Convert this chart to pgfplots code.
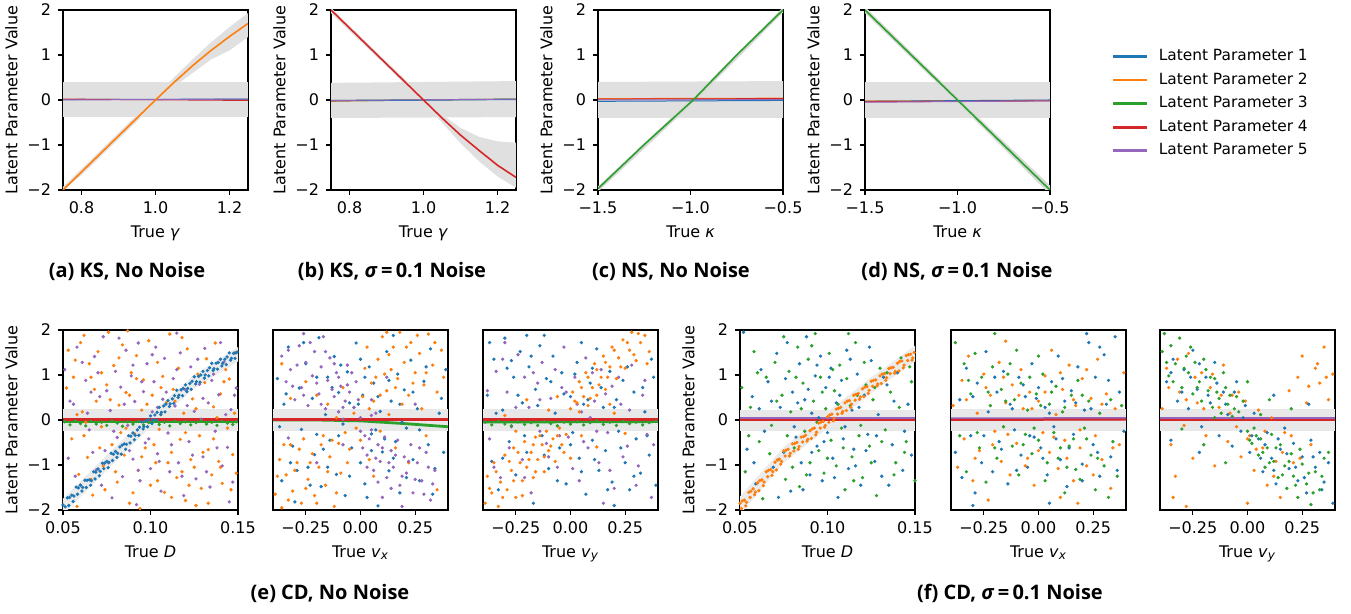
\documentclass[border=0pt]{standalone}
\usepackage{pgfplots}
\pgfplotsset{compat=1.18}
\usepackage{fontspec}
\setmainfont{DejaVu Sans}
\newfontfamily\capfont{Open Sans}
\definecolor{tBlue}{HTML}{1F77B4}
\definecolor{tOrange}{HTML}{FF7F0E}
\definecolor{tGreen}{HTML}{2CA02C}
\definecolor{tRed}{HTML}{D62728}
\definecolor{tPurple}{HTML}{9467BD}
\newcommand{\capt}[1]{{\capfont\bfseries\fontsize{10}{12}\selectfont #1}}

\pgfplotsset{
  base/.style={scale only axis, anchor=south west, height=90pt, ymin=-2, ymax=2,
    tick align=outside, xtick pos=bottom, ytick pos=left, major tick length=2.5pt,
    every tick/.style={black, line width=0.6pt}, axis line style={line width=0.6pt},
    tick label style={font=\fontsize{8}{9}\selectfont},
    label style={font=\fontsize{8}{9}\selectfont},
    xlabel style={yshift=1pt}},
  lefty/.style={ytick={-2,-1,0,1,2}, yticklabels={−2,−1,0,1,2},
    ylabel={Latent Parameter Value}, ylabel style={yshift=-2pt}},
  noy/.style={ytick=\empty},
  toprow/.style={base, lefty, width=92.5pt},
  botrow/.style={base, width=87.5pt},
  dots/.style={only marks, mark=*, mark size=0.62pt, mark options={draw=none}},
  cloud/.style={dots},
  flat/.style={line width=0.5pt},
}

\begin{document}
\begin{tikzpicture}
\useasboundingbox (0,0) rectangle (675.5pt,307pt);

% ---------------- (a) KS, no noise
\begin{axis}[toprow, at={(31.5pt,212pt)}, xmin=0.75, xmax=1.25,
  xtick={0.8,1.0,1.2}, xticklabels={0.8,1.0,1.2}, xlabel={True \textit{γ}}]
\addplot[fill=black!12, draw=none] coordinates {(0.75,-0.38) (1.25,-0.38) (1.25,0.4) (0.75,0.4)} -- cycle;
\addplot[fill=black!12, draw=none] coordinates {(0.75,-1.93) (0.8,-1.53) (0.9,-0.73) (1.0,0.07) (1.05,0.5) (1.1,0.9) (1.15,1.28) (1.2,1.62) (1.25,1.93)
  (1.25,1.4) (1.2,1.1) (1.15,0.9) (1.1,0.6) (1.05,0.3) (1.0,-0.07) (0.9,-0.87) (0.8,-1.67) (0.75,-2.0)} -- cycle;
\addplot[flat, tGreen] coordinates {(0.75,0.0) (1.25,0.0)};
\addplot[flat, tBlue] coordinates {(0.75,0.01) (1.25,0.02)};
\addplot[flat, tRed] coordinates {(0.75,0.02) (1.25,-0.01)};
\addplot[flat, tPurple] coordinates {(0.75,0.0) (1.0,0.01) (1.25,0.02)};
\addplot[tOrange, line width=0.8pt] coordinates {(0.75,-2.0) (0.8,-1.6) (0.85,-1.2) (0.9,-0.8) (0.95,-0.4) (1.0,0.0) (1.05,0.39) (1.1,0.76) (1.15,1.1) (1.2,1.41) (1.25,1.70)};
\end{axis}

% ---------------- (b) KS, sigma = 0.1
\begin{axis}[toprow, at={(165.5pt,212pt)}, xmin=0.75, xmax=1.25,
  xtick={0.8,1.0,1.2}, xticklabels={0.8,1.0,1.2}, xlabel={True \textit{γ}}]
\addplot[fill=black!12, draw=none] coordinates {(0.75,-0.4) (1.25,-0.38) (1.25,0.42) (0.75,0.38)} -- cycle;
\addplot[fill=black!12, draw=none] coordinates {(0.75,2.05) (0.9,0.85) (1.0,0.07) (1.05,-0.32) (1.1,-0.62) (1.15,-0.82) (1.2,-0.92) (1.25,-0.95)
  (1.25,-1.95) (1.2,-1.7) (1.15,-1.36) (1.1,-0.96) (1.05,-0.5) (1.0,-0.07) (0.9,0.75) (0.75,1.93)} -- cycle;
\addplot[flat, tOrange] coordinates {(0.75,-0.03) (0.9,-0.01) (1.25,0.02)};
\addplot[flat, tGreen] coordinates {(0.75,-0.01) (1.25,0.02)};
\addplot[flat, tBlue] coordinates {(0.75,-0.02) (1.25,0.01)};
\addplot[flat, tPurple] coordinates {(0.75,-0.01) (1.25,0.02)};
\addplot[tRed, line width=0.8pt] coordinates {(0.75,2.0) (0.8,1.6) (0.85,1.2) (0.9,0.8) (0.95,0.4) (1.0,0.0) (1.05,-0.4) (1.1,-0.78) (1.15,-1.12) (1.2,-1.45) (1.25,-1.72)};
\end{axis}

% ---------------- (c) NS, no noise
\begin{axis}[toprow, at={(299pt,212pt)}, xmin=-1.5, xmax=-0.5,
  xtick={-1.5,-1.0,-0.5}, xticklabels={−1.5,−1.0,−0.5}, xlabel={True \textit{κ}}]
\addplot[fill=black!12, draw=none] coordinates {(-1.5,-0.4) (-0.5,-0.4) (-0.5,0.42) (-1.5,0.4)} -- cycle;
\addplot[fill=black!15, draw=none] coordinates {(-1.5,-1.92) (-0.985,0.06) (-0.5,2.06) (-0.5,1.94) (-0.985,-0.06) (-1.5,-2.04)} -- cycle;
\addplot[flat, tOrange] coordinates {(-1.5,0.03) (-0.5,0.04)};
\addplot[flat, tBlue] coordinates {(-1.5,-0.03) (-0.5,-0.01)};
\addplot[flat, tRed] coordinates {(-1.5,0.02) (-0.5,0.03)};
\addplot[flat, tPurple] coordinates {(-1.5,0.0) (-0.5,0.01)};
\addplot[tGreen, line width=0.8pt] coordinates {(-1.5,-1.97) (-1.25,-0.99) (-0.985,0.0) (-0.75,1.0) (-0.5,2.0)};
\end{axis}

% ---------------- (d) NS, sigma = 0.1 (+ legend)
\begin{axis}[toprow, at={(432.5pt,212pt)}, xmin=-1.5, xmax=-0.5,
  xtick={-1.5,-1.0,-0.5}, xticklabels={−1.5,−1.0,−0.5}, xlabel={True \textit{κ}},
  legend style={at={(1.33,0.805)}, anchor=north west, draw=none, fill=none,
    font=\fontsize{7.7}{9}\selectfont, row sep=0.6pt, inner sep=0pt},
  legend cell align=left,
  legend image code/.code={\path[draw=none, fill=none] (0pt,0pt) -- (21pt,0pt);
    \draw[#1, line width=1.3pt] (0pt,0pt) -- (17pt,0pt);}]
\addlegendimage{tBlue}
\addlegendimage{tOrange}
\addlegendimage{tGreen}
\addlegendimage{tRed}
\addlegendimage{tPurple}
\legend{Latent Parameter 1,Latent Parameter 2,Latent Parameter 3,Latent Parameter 4,Latent Parameter 5}
\addplot[fill=black!12, draw=none] coordinates {(-1.5,-0.4) (-0.5,-0.4) (-0.5,0.4) (-1.5,0.4)} -- cycle;
\addplot[fill=black!15, draw=none] coordinates {(-1.5,2.07) (-1.0,0.06) (-0.5,-1.9) (-0.5,-2.1) (-1.0,-0.06) (-1.5,1.93)} -- cycle;
\addplot[flat, tOrange] coordinates {(-1.5,-0.02) (-0.5,-0.01)};
\addplot[flat, tBlue] coordinates {(-1.5,-0.03) (-0.5,0.0)};
\addplot[flat, tRed] coordinates {(-1.5,-0.04) (-0.5,-0.02)};
\addplot[flat, tPurple] coordinates {(-1.5,-0.05) (-0.5,-0.02)};
\addplot[tGreen, line width=0.8pt] coordinates {(-1.5,2.0) (-1.25,1.0) (-1.0,0.0) (-0.75,-1.0) (-0.5,-2.0)};
\end{axis}

% ---------------- (e) CD, no noise: D
\begin{axis}[botrow, lefty, at={(31.5pt,52pt)}, xmin=0.05, xmax=0.15,
  xtick={0.05,0.10,0.15}, xticklabels={0.05,0.10,0.15}, xlabel={True \textit{D}}]
\addplot[fill=black!9, draw=none] coordinates {(0.05,-0.25) (0.15,-0.25) (0.15,0.25) (0.05,0.25)} -- cycle;
\addplot[fill=black!8, draw=none] coordinates {(0.05,-1.75) (0.075,-0.78) (0.1,0.15) (0.125,1.0) (0.15,1.62) (0.15,1.3) (0.125,0.7) (0.1,-0.15) (0.075,-1.12) (0.05,-2.1)} -- cycle;
\addplot[cloud, tOrange] coordinates {(0.052,0.71) (0.055,-0.42) (0.057,1.33) (0.059,-1.21) (0.061,0.18) (0.062,1.88) (0.064,-0.83) (0.066,0.95) (0.067,-1.67) (0.069,0.42) (0.070,1.52) (0.072,-0.15) (0.073,-1.02) (0.075,0.78) (0.076,1.95) (0.078,-0.55) (0.079,1.21) (0.081,-1.38) (0.082,0.33) (0.084,1.67) (0.085,-0.78) (0.086,0.61) (0.088,-1.85) (0.089,1.05) (0.091,-0.31) (0.092,1.43) (0.093,-1.12) (0.095,0.22) (0.096,0.89) (0.097,-0.62) (0.099,1.76) (0.100,-1.45) (0.101,0.55) (0.103,-0.95) (0.104,1.28) (0.105,-0.21) (0.107,0.97) (0.108,-1.61) (0.109,0.38) (0.111,1.91) (0.112,-0.72) (0.113,0.68) (0.115,-1.28) (0.116,1.15) (0.117,-0.43) (0.119,0.15) (0.120,-1.79) (0.121,1.58) (0.123,-0.88) (0.124,0.47) (0.125,-1.05) (0.127,1.02) (0.128,-0.35) (0.129,-1.52) (0.131,0.83) (0.132,1.36) (0.133,-0.66) (0.135,-1.22) (0.136,0.29) (0.137,1.71) (0.139,-0.92) (0.140,0.58) (0.141,-1.41) (0.143,1.12) (0.144,-0.18) (0.145,0.91) (0.147,-0.77) (0.148,1.49) (0.149,-1.18) (0.058,-1.92) (0.074,-1.55) (0.087,1.98) (0.094,-1.97) (0.118,1.83) (0.126,-1.9) (0.106,0.12) (0.083,-0.28) (0.063,-0.05) (0.138,0.05)
  (0.053,1.55) (0.056,0.95) (0.060,1.72) (0.062,-0.35) (0.065,1.25) (0.068,0.68) (0.071,-0.62) (0.072,1.05) (0.077,0.45) (0.080,-1.15) (0.082,1.38) (0.086,-0.18) (0.088,0.55) (0.090,-1.62) (0.092,0.92) (0.095,-0.82) (0.098,0.35) (0.102,-0.55) (0.104,-1.35) (0.106,0.72) (0.110,-0.95) (0.112,-1.72) (0.114,0.42) (0.118,-1.15) (0.120,-0.28) (0.122,-1.45) (0.126,0.25) (0.130,-0.72) (0.133,-1.85) (0.136,-0.42) (0.140,-1.05) (0.142,0.85) (0.146,-1.55) (0.148,0.15) (0.058,0.12) (0.066,-1.32)};
\addplot[cloud, tPurple] coordinates {(0.051,1.12) (0.053,-0.85) (0.056,0.35) (0.058,1.62) (0.060,-1.45) (0.063,0.88) (0.065,-0.22) (0.068,1.41) (0.069,-1.11) (0.071,0.52) (0.073,1.85) (0.074,-0.68) (0.077,0.21) (0.078,-1.73) (0.080,1.08) (0.081,-0.39) (0.083,0.73) (0.084,-1.26) (0.086,1.55) (0.087,-0.12) (0.089,0.98) (0.090,-0.87) (0.091,0.41) (0.093,1.71) (0.094,-1.35) (0.096,0.63) (0.097,-0.51) (0.098,1.25) (0.100,-1.08) (0.102,0.85) (0.103,1.62) (0.104,-0.75) (0.106,-1.58) (0.107,0.46) (0.108,1.37) (0.110,-0.29) (0.111,-1.15) (0.113,0.92) (0.114,0.31) (0.116,-0.95) (0.117,1.49) (0.119,-1.68) (0.120,0.67) (0.122,-0.48) (0.123,1.18) (0.125,0.19) (0.126,-1.31) (0.128,0.79) (0.130,-0.82) (0.131,1.59) (0.133,0.38) (0.134,-1.49) (0.136,1.02) (0.137,-0.25) (0.139,0.56) (0.141,-1.02) (0.142,1.29) (0.144,-0.61) (0.146,0.23) (0.147,-1.38) (0.149,0.71) (0.076,-0.95) (0.092,-1.88) (0.115,1.93) (0.129,0.02) (0.066,0.62) (0.101,0.18)
  (0.054,0.42) (0.057,-1.25) (0.061,1.28) (0.064,0.15) (0.067,-0.72) (0.070,1.05) (0.072,-1.45) (0.075,0.65) (0.079,-0.25) (0.082,1.82) (0.085,0.35) (0.088,-0.68) (0.090,1.22) (0.093,-1.12) (0.095,0.85) (0.099,-0.42) (0.101,1.45) (0.104,0.28) (0.105,-0.92) (0.109,0.62) (0.112,-0.55) (0.115,1.12) (0.118,-1.25) (0.121,0.32) (0.124,-0.78) (0.127,1.35) (0.130,0.48) (0.132,-1.15) (0.135,0.88) (0.138,-0.62) (0.140,1.72) (0.143,0.12) (0.145,-1.82) (0.148,0.55)};
\addplot[dots, tGreen] coordinates {(0.051,-0.04) (0.054,-0.11) (0.057,-0.02) (0.060,-0.08) (0.063,-0.13) (0.066,-0.03) (0.069,-0.09) (0.072,-0.05) (0.075,-0.12) (0.078,-0.02) (0.081,-0.07) (0.084,-0.14) (0.087,-0.04) (0.090,-0.09) (0.093,-0.03) (0.096,-0.11) (0.099,-0.06) (0.102,-0.02) (0.105,-0.10) (0.108,-0.05) (0.111,-0.13) (0.114,-0.03) (0.117,-0.08) (0.120,-0.04) (0.123,-0.11) (0.126,-0.06) (0.129,-0.02) (0.132,-0.09) (0.135,-0.05) (0.138,-0.12) (0.141,-0.03) (0.144,-0.07) (0.147,-0.1) (0.149,-0.04)};
\addplot[tGreen, line width=1.2pt] coordinates {(0.05,-0.05) (0.15,-0.05)};
\addplot[tRed, line width=1.4pt] coordinates {(0.05,0.01) (0.15,0.01)};
\addplot[dots, tBlue] coordinates {(0.0500,-1.89) (0.0508,-2.04) (0.0525,-1.73) (0.0533,-1.90) (0.0550,-1.67) (0.0558,-1.81) (0.0575,-1.49) (0.0583,-1.65) (0.0600,-1.45) (0.0608,-1.58) (0.0625,-1.34) (0.0633,-1.50) (0.0650,-1.33) (0.0658,-1.45) (0.0675,-1.15) (0.0683,-1.31) (0.0700,-1.09) (0.0708,-1.24) (0.0725,-0.96) (0.0733,-1.08) (0.0750,-0.92) (0.0758,-1.06) (0.0775,-0.74) (0.0783,-0.90) (0.0800,-0.70) (0.0808,-0.83) (0.0825,-0.60) (0.0833,-0.76) (0.0850,-0.53) (0.0858,-0.65) (0.0875,-0.35) (0.0883,-0.51) (0.0900,-0.29) (0.0908,-0.44) (0.0925,-0.22) (0.0933,-0.34) (0.0950,-0.04) (0.0958,-0.20) (0.0975,-0.02) (0.0983,-0.15) (0.1000,0.09) (0.1008,-0.08) (0.1025,0.11) (0.1033,0.00) (0.1050,0.28) (0.1058,0.12) (0.1075,0.31) (0.1083,0.18) (0.1100,0.43) (0.1108,0.30) (0.1125,0.47) (0.1133,0.37) (0.1150,0.66) (0.1158,0.50) (0.1175,0.67) (0.1183,0.54) (0.1200,0.78) (0.1208,0.63) (0.1225,0.81) (0.1233,0.68) (0.1250,0.96) (0.1258,0.80) (0.1275,0.97) (0.1283,0.84) (0.1300,1.08) (0.1308,0.93) (0.1325,1.10) (0.1333,0.98) (0.1350,1.26) (0.1358,1.10) (0.1375,1.26) (0.1383,1.13) (0.1400,1.35) (0.1408,1.20) (0.1425,1.35) (0.1433,1.23) (0.1450,1.49) (0.1458,1.33) (0.1475,1.48) (0.1483,1.37) (0.1495,1.51)
  (0.05125,-1.93) (0.05375,-1.72) (0.05625,-1.69) (0.05875,-1.51) (0.06125,-1.50) (0.06375,-1.34) (0.06625,-1.35) (0.06875,-1.16) (0.07125,-1.14) (0.07375,-0.96) (0.07625,-0.94) (0.07875,-0.76) (0.08125,-0.74) (0.08375,-0.56) (0.08625,-0.54) (0.08875,-0.36) (0.09125,-0.34) (0.09375,-0.16) (0.09625,-0.15) (0.09875,0.01) (0.10125,0.00) (0.10375,0.17) (0.10625,0.17) (0.10875,0.35) (0.11125,0.36) (0.11375,0.54) (0.11625,0.55) (0.11875,0.70) (0.12125,0.70) (0.12375,0.86) (0.12625,0.85) (0.12875,1.00) (0.13125,1.00) (0.13375,1.16) (0.13625,1.14) (0.13875,1.28) (0.14125,1.26) (0.14375,1.40) (0.14625,1.37) (0.14875,1.49)};
\end{axis}

% ---------------- (e) CD, no noise: v_x
\begin{axis}[botrow, noy, at={(136.5pt,52pt)}, xmin=-0.4, xmax=0.4,
  xtick={-0.25,0,0.25}, xticklabels={−0.25,0.00,0.25}, xlabel={True \textit{v}\textsubscript{\textit{x}}}]
\addplot[fill=black!9, draw=none] coordinates {(-0.4,-0.25) (0.4,-0.25) (0.4,0.25) (-0.4,0.25)} -- cycle;
\addplot[cloud, tBlue] coordinates {(-0.38,0.92) (-0.36,-1.35) (-0.35,0.35) (-0.33,1.62) (-0.31,-0.58) (-0.30,-1.82) (-0.28,0.71) (-0.27,-0.21) (-0.25,1.25) (-0.24,-1.05) (-0.22,0.48) (-0.21,-0.77) (-0.19,1.83) (-0.18,-1.48) (-0.16,0.12) (-0.15,0.95) (-0.14,-0.45) (-0.12,1.41) (-0.11,-1.21) (-0.10,0.61) (-0.08,-0.09) (-0.07,-1.68) (-0.06,1.07) (-0.04,-0.62) (-0.03,0.28) (-0.02,1.71) (0.00,-0.95) (0.01,0.55) (0.02,-1.42) (0.04,1.18) (0.05,-0.31) (0.06,0.82) (0.08,-1.91) (0.09,0.19) (0.10,-0.71) (0.12,1.52) (0.13,-1.13) (0.14,0.42) (0.16,-0.48) (0.17,1.02) (0.18,-1.62) (0.20,0.67) (0.21,-0.18) (0.23,1.33) (0.24,-0.88) (0.26,0.25) (0.27,-1.35) (0.29,0.86) (0.31,-0.55) (0.32,1.58) (0.34,-1.08) (0.36,0.15) (0.38,-0.72) (0.39,1.12) (-0.2,-0.32) (-0.05,0.38) (0.07,-0.22) (0.15,1.88) (-0.29,-1.12) (0.03,-1.72)
  (-0.37,-0.15) (-0.34,0.58) (-0.32,-0.95) (-0.26,1.72) (-0.23,-1.45) (-0.20,0.95) (-0.17,-0.65) (-0.13,0.72) (-0.10,-0.35) (-0.09,1.22) (-0.05,-1.25) (-0.01,0.35) (0.02,0.95) (0.05,-0.68) (0.08,0.52) (0.11,-0.42) (0.13,0.88) (0.15,-0.85) (0.18,0.35) (0.21,-1.28) (0.24,0.62) (0.27,-0.22) (0.30,1.18) (0.33,-1.65) (0.37,0.48) (-0.15,-1.05) (0.0,1.35) (0.19,-0.05)};
\addplot[cloud, tOrange] coordinates {(0.05,0.82) (0.08,1.35) (0.10,1.85) (0.12,0.65) (0.14,1.12) (0.15,1.62) (0.17,0.92) (0.18,1.95) (0.20,1.28) (0.22,0.55) (0.23,1.72) (0.25,1.05) (0.27,1.48) (0.29,0.78) (0.31,1.91) (0.33,1.22) (0.35,0.62) (0.37,1.55) (0.02,1.15) (0.06,0.42) (0.19,0.35) (0.28,0.25) (0.11,1.02) (-0.39,-1.65) (-0.37,-0.88) (-0.36,-1.95) (-0.34,-1.22) (-0.32,-0.55) (-0.31,-1.58) (-0.29,-0.95) (-0.27,-1.85) (-0.26,-0.42) (-0.24,-1.32) (-0.22,-0.75) (-0.21,-1.68) (-0.19,-1.05) (-0.17,-0.35) (-0.16,-1.45) (-0.14,-0.82) (-0.12,-1.92) (-0.10,-0.52) (-0.09,-1.18) (-0.07,-0.28) (-0.15,0.35) (-0.08,0.72) (0.0,-0.45) (0.04,-0.88) (-0.03,0.15) (0.09,-0.25) (-0.2,0.55) (0.16,-0.62) (-0.32,0.48) (0.3,-0.35) (-0.05,-0.65) (0.01,0.52) (0.13,0.12) (-0.11,0.05)
  (0.03,1.62) (0.07,0.95) (0.09,0.55) (0.13,1.45) (0.16,0.72) (0.21,1.62) (0.24,0.82) (0.26,1.88) (0.30,1.05) (0.34,1.72) (0.38,0.95) (0.12,1.95) (0.04,0.25) (-0.38,-1.25) (-0.35,-0.55) (-0.33,-1.78) (-0.30,-1.12) (-0.28,-0.65) (-0.25,-1.52) (-0.23,-0.95) (-0.20,-1.85) (-0.18,-0.55) (-0.15,-1.15) (-0.13,-0.45) (-0.11,-1.62) (-0.06,-0.95) (-0.02,-0.18) (0.06,-1.25) (-0.25,0.85) (0.22,-0.95) (0.35,-1.55) (-0.36,1.25)};
\addplot[cloud, tPurple] coordinates {(-0.36,1.42) (-0.34,0.85) (-0.32,1.12) (-0.30,0.45) (-0.28,1.65) (-0.27,0.72) (-0.25,1.28) (-0.24,0.32) (-0.22,0.98) (-0.21,1.52) (-0.19,0.58) (-0.18,1.18) (-0.16,0.25) (-0.15,0.88) (-0.14,1.38) (-0.12,0.52) (-0.11,1.05) (-0.10,0.18) (-0.09,0.75) (-0.07,0.42) (-0.06,1.22) (-0.05,0.62) (-0.03,0.28) (-0.02,0.85) (-0.17,1.85) (-0.26,1.92) (0.02,-0.35) (0.03,-0.78) (0.05,-0.22) (0.06,-1.12) (0.08,-0.55) (0.09,-0.92) (0.11,-0.38) (0.12,-1.28) (0.14,-0.68) (0.15,-1.05) (0.17,-0.45) (0.18,-1.45) (0.20,-0.82) (0.21,-1.18) (0.23,-0.55) (0.24,-1.62) (0.26,-0.95) (0.28,-1.35) (0.30,-0.72) (0.32,-1.78) (0.34,-1.12) (0.10,-1.72) (0.19,-1.92) (0.05,0.45) (0.12,0.95) (-0.08,-0.55) (-0.2,-0.95) (0.25,0.35) (-0.33,-0.4) (0.0,0.05) (0.07,0.15)
  (-0.33,1.55) (-0.31,0.75) (-0.29,1.22) (-0.26,0.55) (-0.23,1.72) (-0.2,0.82) (-0.18,0.35) (-0.16,1.52) (-0.13,0.68) (-0.12,1.25) (-0.10,0.95) (-0.08,0.28) (-0.06,0.78) (-0.04,1.05) (-0.01,0.45) (0.00,-0.25) (0.01,-0.62) (0.03,-1.05) (0.04,-0.42) (0.07,-0.85) (0.08,-1.38) (0.10,-0.62) (0.13,-0.95) (0.14,-1.52) (0.16,-0.78) (0.19,-1.25) (0.22,-0.92) (0.25,-1.32) (0.27,-0.62) (0.29,-1.65) (0.31,-1.05) (0.33,-1.42) (-0.08,0.02) (0.05,0.1)};
\addplot[tGreen, line width=1.4pt] coordinates {(-0.4,0.0) (-0.2,0.0) (0.0,-0.02) (0.2,-0.08) (0.4,-0.15)};
\addplot[tRed, line width=1.4pt] coordinates {(-0.4,0.01) (0.4,0.01)};
\end{axis}

% ---------------- (e) CD, no noise: v_y
\begin{axis}[botrow, noy, at={(241.5pt,52pt)}, xmin=-0.4, xmax=0.4,
  xtick={-0.25,0,0.25}, xticklabels={−0.25,0.00,0.25}, xlabel={True \textit{v}\textsubscript{\textit{y}}}]
\addplot[fill=black!9, draw=none] coordinates {(-0.4,-0.25) (0.4,-0.25) (0.4,0.25) (-0.4,0.25)} -- cycle;
\addplot[cloud, tBlue] coordinates {(-0.38,0.55) (-0.36,-0.92) (-0.35,1.35) (-0.33,-1.55) (-0.31,0.22) (-0.30,1.82) (-0.28,-0.48) (-0.26,0.95) (-0.25,-1.22) (-0.23,1.52) (-0.22,0.38) (-0.20,-0.72) (-0.19,1.18) (-0.17,-1.85) (-0.16,0.68) (-0.14,1.65) (-0.13,-0.35) (-0.11,0.92) (-0.10,-1.08) (-0.08,1.42) (-0.07,0.15) (-0.05,-0.62) (-0.04,1.05) (-0.02,-1.42) (0.00,0.52) (0.01,-0.28) (0.03,1.28) (0.04,-0.85) (0.06,0.35) (0.07,-1.65) (0.09,0.82) (0.10,-0.45) (0.12,1.58) (0.13,-1.12) (0.15,0.28) (0.16,-0.68) (0.18,1.08) (0.19,-1.38) (0.21,0.45) (0.22,-0.25) (0.24,0.88) (0.25,-0.95) (0.27,-1.55) (0.29,0.62) (0.30,-0.42) (0.32,-1.18) (0.34,0.18) (0.36,-0.78) (0.38,0.95) (0.39,-1.45) (-0.29,1.15) (-0.12,1.88) (0.05,1.72) (0.2,-1.9)
  (-0.37,1.72) (-0.34,0.15) (-0.31,-0.85) (-0.27,1.32) (-0.24,0.55) (-0.21,-0.35) (-0.18,1.42) (-0.15,0.32) (-0.12,-0.78) (-0.09,0.85) (-0.06,-1.35) (-0.03,0.58) (0.00,-0.55) (0.02,1.02) (0.05,-1.15) (0.08,0.45) (0.11,-0.88) (0.14,0.72) (0.17,-1.55) (0.20,0.28) (0.23,-0.62) (0.26,1.18) (0.29,-1.25) (0.33,0.72) (0.35,-0.35) (0.37,1.35) (-0.2,1.88) (0.1,1.15)};
\addplot[cloud, tPurple] coordinates {(-0.37,-0.42) (-0.34,1.08) (-0.32,-1.28) (-0.29,0.62) (-0.27,-0.15) (-0.24,1.45) (-0.22,-0.88) (-0.19,0.28) (-0.18,-1.62) (-0.15,0.82) (-0.13,1.28) (-0.11,-0.52) (-0.09,0.48) (-0.06,-1.05) (-0.04,0.72) (-0.03,1.62) (-0.01,-0.38) (0.02,0.95) (0.04,-1.35) (0.05,0.18) (0.07,1.38) (0.08,-0.62) (0.11,0.42) (0.13,-0.95) (0.14,1.12) (0.17,-0.28) (0.19,0.75) (0.20,-1.52) (0.23,0.35) (0.26,-0.58) (0.28,1.22) (0.31,-1.02) (0.33,0.55) (0.35,-0.32) (0.37,-1.72) (-0.14,-0.25) (0.09,0.05) (-0.21,0.95) (0.15,-1.85) (-0.3,1.72)
  (-0.38,0.65) (-0.35,-1.05) (-0.31,1.35) (-0.28,-0.62) (-0.25,0.28) (-0.21,-1.28) (-0.17,1.05) (-0.14,0.45) (-0.1,-0.82) (-0.07,1.12) (-0.05,-0.35) (-0.02,0.62) (0.01,-1.08) (0.03,0.35) (0.06,-0.48) (0.10,1.05) (0.12,-0.25) (0.16,0.58) (0.18,-1.12) (0.22,0.95) (0.24,-0.82) (0.27,0.22) (0.30,-1.45) (0.34,0.88) (0.38,-0.55)};
\addplot[cloud, tOrange] coordinates {(-0.39,-1.85) (-0.38,-1.25) (-0.36,-1.62) (-0.35,-0.95) (-0.33,-1.92) (-0.32,-1.38) (-0.30,-0.78) (-0.29,-1.55) (-0.27,-1.12) (-0.26,-0.62) (-0.25,-1.72) (-0.23,-0.95) (-0.22,-1.35) (-0.21,-0.48) (-0.20,-1.05) (-0.18,-0.72) (-0.17,-1.28) (-0.16,-0.38) (-0.15,-0.88) (-0.13,-0.55) (-0.12,-1.15) (-0.11,-0.25) (-0.10,-0.68) (-0.08,-0.42) (-0.07,-0.92) (-0.05,-0.18) (-0.04,-0.55) (-0.02,-0.32) (0.00,0.25) (0.01,0.62) (0.03,0.38) (0.04,0.85) (0.06,0.52) (0.07,1.05) (0.08,0.32) (0.10,0.72) (0.11,1.25) (0.12,0.55) (0.14,0.95) (0.15,1.42) (0.16,0.68) (0.18,1.18) (0.19,1.62) (0.21,0.92) (0.22,1.38) (0.24,1.78) (0.25,1.15) (0.27,1.55) (0.28,1.95) (0.30,1.32) (0.32,1.72) (0.34,1.88) (0.36,1.52) (-0.2,0.45) (0.05,-0.35) (-0.1,0.22) (0.12,-0.6) (0.2,0.15) (-0.3,0.1) (0.0,-0.85) (-0.06,0.52) (0.25,-0.3)
  (-0.37,-1.52) (-0.34,-1.15) (-0.31,-1.72) (-0.28,-0.92) (-0.26,-1.35) (-0.24,-0.72) (-0.22,-1.68) (-0.19,-0.88) (-0.17,-0.55) (-0.16,-1.15) (-0.14,-0.35) (-0.12,-0.82) (-0.09,-0.58) (-0.06,-0.35) (-0.03,-0.72) (0.02,0.42) (0.04,0.18) (0.05,0.72) (0.08,0.95) (0.09,0.48) (0.12,1.12) (0.13,0.78) (0.16,1.28) (0.17,0.95) (0.20,1.55) (0.23,1.18) (0.26,1.72) (0.29,1.45) (0.31,1.92) (0.35,1.25) (0.18,0.35) (-0.25,-0.25)};
\addplot[dots, tGreen] coordinates {(-0.39,-0.05) (-0.36,-0.11) (-0.33,-0.03) (-0.30,-0.09) (-0.27,-0.13) (-0.24,-0.04) (-0.21,-0.10) (-0.18,-0.06) (-0.15,-0.12) (-0.12,-0.03) (-0.09,-0.08) (-0.06,-0.13) (-0.03,-0.05) (0.00,-0.09) (0.03,-0.04) (0.06,-0.11) (0.09,-0.06) (0.12,-0.02) (0.15,-0.10) (0.18,-0.05) (0.21,-0.12) (0.24,-0.03) (0.27,-0.08) (0.30,-0.05) (0.33,-0.11) (0.36,-0.06) (0.39,-0.03)};
\addplot[tGreen, line width=1.2pt] coordinates {(-0.4,-0.05) (0.4,-0.04)};
\addplot[tRed, line width=1.4pt] coordinates {(-0.4,0.01) (0.4,0.01)};
\end{axis}

% ---------------- (f) CD, sigma = 0.1: D
\begin{axis}[botrow, lefty, at={(370pt,52pt)}, xmin=0.05, xmax=0.15,
  xtick={0.05,0.10,0.15}, xticklabels={0.05,0.10,0.15}, xlabel={True \textit{D}}]
\addplot[fill=black!9, draw=none] coordinates {(0.05,-0.25) (0.15,-0.25) (0.15,0.22) (0.05,0.22)} -- cycle;
\addplot[fill=black!8, draw=none] coordinates {(0.05,-1.7) (0.075,-0.6) (0.1,0.18) (0.125,0.95) (0.15,1.65) (0.15,1.3) (0.125,0.6) (0.1,-0.18) (0.075,-0.95) (0.05,-2.1)} -- cycle;
\addplot[cloud, tBlue] coordinates {(0.052,1.95) (0.054,-0.65) (0.057,0.52) (0.059,-1.42) (0.062,1.12) (0.064,-0.25) (0.066,0.85) (0.069,-1.05) (0.071,1.48) (0.073,0.28) (0.075,-0.72) (0.077,1.72) (0.079,-1.58) (0.080,0.62) (0.082,-0.38) (0.084,1.25) (0.085,-0.95) (0.087,0.45) (0.088,1.85) (0.090,-1.22) (0.091,0.15) (0.093,0.98) (0.094,-0.58) (0.096,1.42) (0.097,-1.35) (0.099,0.72) (0.100,-0.28) (0.102,1.15) (0.103,-0.85) (0.105,0.38) (0.106,-1.72) (0.108,0.88) (0.109,-0.42) (0.111,1.55) (0.112,-1.08) (0.114,0.22) (0.115,-0.65) (0.117,1.02) (0.119,-1.45) (0.121,0.55) (0.123,-0.32) (0.125,1.32) (0.127,-0.92) (0.129,0.12) (0.131,-1.25) (0.134,0.78) (0.137,-0.55) (0.140,1.05) (0.143,-1.12) (0.146,0.35) (0.148,-0.78)
  (0.068,0.42) (0.072,-1.72) (0.076,0.92) (0.081,-0.15) (0.083,0.38) (0.086,-1.55) (0.089,0.68) (0.091,-0.72) (0.094,1.22) (0.095,0.05) (0.098,-0.48) (0.101,0.95) (0.104,-1.28) (0.107,0.55) (0.110,-0.15) (0.113,1.35) (0.116,-1.02) (0.118,0.28) (0.122,-0.68) (0.124,1.62) (0.128,-0.35) (0.132,0.95) (0.135,-1.45) (0.138,0.42) (0.144,-0.25) (0.058,-0.95) (0.061,0.25)};
\addplot[cloud, tGreen] coordinates {(0.051,0.72) (0.053,-1.15) (0.056,0.28) (0.058,1.52) (0.061,-0.48) (0.063,-1.75) (0.065,0.95) (0.068,-0.12) (0.070,1.28) (0.072,-0.88) (0.074,0.55) (0.076,-1.32) (0.078,1.08) (0.079,0.18) (0.081,-0.62) (0.083,1.62) (0.084,-1.48) (0.086,0.82) (0.087,-0.25) (0.089,1.35) (0.090,-0.95) (0.092,0.42) (0.093,1.92) (0.095,-0.68) (0.096,0.95) (0.098,-1.18) (0.099,0.25) (0.101,1.48) (0.102,-0.45) (0.104,0.65) (0.105,-1.02) (0.107,1.22) (0.108,-0.18) (0.110,-1.55) (0.111,0.92) (0.113,0.32) (0.114,-0.82) (0.116,1.72) (0.118,-0.35) (0.120,-1.28) (0.122,0.78) (0.124,-0.58) (0.126,0.45) (0.128,-1.68) (0.130,1.15) (0.133,-0.22) (0.136,0.62) (0.139,-0.95) (0.142,1.38) (0.145,-0.48) (0.148,0.85) (0.150,-1.35)
  (0.06,1.05) (0.067,-0.75) (0.071,0.42) (0.075,1.85) (0.077,-0.35) (0.08,-1.05) (0.082,0.95) (0.085,0.25) (0.088,-1.22) (0.091,1.65) (0.094,-0.05) (0.097,0.62) (0.1,-0.85) (0.103,1.12) (0.106,0.35) (0.109,-0.62) (0.112,1.92) (0.115,-1.35) (0.117,0.55) (0.119,-0.12) (0.121,1.28) (0.125,-0.95) (0.127,0.72) (0.131,-0.48) (0.134,1.05) (0.138,-1.22) (0.141,0.28) (0.144,-0.72) (0.147,1.18) (0.055,-0.35)};
\addplot[tPurple, line width=1.6pt] coordinates {(0.05,0.02) (0.15,0.02)};
\addplot[tRed, line width=1.0pt] coordinates {(0.05,0.0) (0.15,0.0)};
\addplot[dots, tOrange] coordinates {(0.0500,-1.85) (0.0508,-1.97) (0.0525,-1.78) (0.0533,-1.91) (0.0550,-1.61) (0.0558,-1.72) (0.0575,-1.53) (0.0583,-1.66) (0.0600,-1.40) (0.0608,-1.57) (0.0625,-1.33) (0.0633,-1.46) (0.0650,-1.15) (0.0658,-1.26) (0.0675,-1.10) (0.0683,-1.23) (0.0700,-0.94) (0.0708,-1.11) (0.0725,-0.87) (0.0733,-0.98) (0.0750,-0.69) (0.0758,-0.80) (0.0775,-0.65) (0.0783,-0.80) (0.0800,-0.53) (0.0808,-0.69) (0.0825,-0.50) (0.0833,-0.65) (0.0850,-0.38) (0.0858,-0.49) (0.0875,-0.34) (0.0883,-0.47) (0.0900,-0.24) (0.0908,-0.41) (0.0925,-0.18) (0.0933,-0.33) (0.0950,-0.07) (0.0958,-0.18) (0.0975,-0.03) (0.0983,-0.16) (0.1000,0.07) (0.1008,-0.05) (0.1025,0.13) (0.1033,-0.02) (0.1050,0.24) (0.1058,0.13) (0.1075,0.28) (0.1083,0.15) (0.1100,0.38) (0.1108,0.21) (0.1125,0.43) (0.1133,0.28) (0.1150,0.55) (0.1158,0.44) (0.1175,0.59) (0.1183,0.46) (0.1200,0.69) (0.1208,0.52) (0.1225,0.74) (0.1233,0.59) (0.1250,0.86) (0.1258,0.75) (0.1275,0.89) (0.1283,0.76) (0.1300,0.98) (0.1308,0.81) (0.1325,1.03) (0.1333,0.88) (0.1350,1.14) (0.1358,1.03) (0.1375,1.17) (0.1383,1.04) (0.1400,1.26) (0.1408,1.09) (0.1425,1.31) (0.1433,1.16) (0.1450,1.43) (0.1458,1.32) (0.1475,1.46) (0.1483,1.33) (0.1495,1.50)
  (0.05125,-1.80) (0.05375,-1.83) (0.05625,-1.58) (0.05875,-1.60) (0.06125,-1.35) (0.06375,-1.38) (0.06625,-1.12) (0.06875,-1.15) (0.07125,-0.89) (0.07375,-0.92) (0.07625,-0.67) (0.07875,-0.74) (0.08125,-0.52) (0.08375,-0.59) (0.08625,-0.37) (0.08875,-0.43) (0.09125,-0.20) (0.09375,-0.27) (0.09625,-0.05) (0.09875,-0.12) (0.10125,0.11) (0.10375,0.04) (0.10625,0.26) (0.10875,0.19) (0.11125,0.42) (0.11375,0.35) (0.11625,0.57) (0.11875,0.51) (0.12125,0.73) (0.12375,0.66) (0.12625,0.88) (0.12875,0.80) (0.13125,1.02) (0.13375,0.94) (0.13625,1.16) (0.13875,1.08) (0.14125,1.30) (0.14375,1.22) (0.14625,1.45) (0.14875,1.38)};
\end{axis}

% ---------------- (f) CD, sigma = 0.1: v_x
\begin{axis}[botrow, noy, at={(475.5pt,52pt)}, xmin=-0.4, xmax=0.4,
  xtick={-0.25,0,0.25}, xticklabels={−0.25,0.00,0.25}, xlabel={True \textit{v}\textsubscript{\textit{x}}}]
\addplot[fill=black!9, draw=none] coordinates {(-0.4,-0.25) (0.4,-0.25) (0.4,0.25) (-0.4,0.25)} -- cycle;
\addplot[cloud, tBlue] coordinates {(-0.38,-0.72) (-0.36,0.45) (-0.35,-1.28) (-0.33,1.15) (-0.31,-0.35) (-0.29,-1.62) (-0.28,0.82) (-0.26,-0.95) (-0.24,1.52) (-0.23,0.18) (-0.21,-1.15) (-0.19,0.62) (-0.18,-0.48) (-0.16,1.08) (-0.14,-1.42) (-0.13,0.35) (-0.11,-0.22) (-0.09,0.95) (-0.08,-0.78) (-0.06,0.52) (-0.05,-1.05) (-0.03,1.25) (-0.02,-0.38) (0.00,0.72) (0.01,-0.62) (0.03,0.28) (0.04,-1.22) (0.06,0.85) (0.07,-0.15) (0.09,1.42) (0.10,-0.88) (0.12,0.42) (0.13,-1.48) (0.15,0.65) (0.16,-0.32) (0.18,1.18) (0.20,-0.98) (0.21,0.22) (0.23,1.72) (0.25,-0.55) (0.26,0.95) (0.28,-1.25) (0.30,1.45) (0.31,0.35) (0.33,-0.82) (0.35,1.85) (0.37,0.62) (0.39,-0.25) (0.22,1.92) (0.28,1.62) (-0.3,-1.9) (0.05,-1.85)
  (-0.3,0.52) (-0.25,-0.35) (-0.2,0.95) (-0.17,-0.65) (-0.12,0.25) (-0.1,-1.12) (-0.07,0.78) (-0.04,-0.35) (-0.01,0.48) (0.02,-0.85) (0.05,0.15) (0.08,-0.42) (0.11,0.92) (0.14,-0.62) (0.17,0.38) (0.2,-1.35) (0.24,0.25) (0.27,-0.72) (0.32,0.88) (0.36,-1.12)};
\addplot[cloud, tOrange] coordinates {(-0.39,0.32) (-0.37,-1.05) (-0.35,0.88) (-0.34,-0.42) (-0.32,1.42) (-0.30,-1.35) (-0.28,0.15) (-0.27,-0.68) (-0.25,1.02) (-0.23,-1.78) (-0.22,0.55) (-0.20,-0.25) (-0.18,1.28) (-0.17,-0.92) (-0.15,0.38) (-0.13,-1.22) (-0.12,0.78) (-0.10,-0.52) (-0.08,1.12) (-0.07,0.25) (-0.05,-0.85) (-0.04,0.62) (-0.02,-1.45) (0.00,0.42) (0.02,-0.28) (0.03,0.98) (0.05,-0.72) (0.06,1.55) (0.08,0.12) (0.09,-1.08) (0.11,0.68) (0.12,-0.45) (0.14,1.22) (0.16,-1.35) (0.17,0.32) (0.19,-0.62) (0.20,0.92) (0.22,-1.02) (0.24,0.48) (0.26,-0.35) (0.27,1.35) (0.29,-0.88) (0.31,0.58) (0.33,-1.52) (0.35,0.25) (0.37,-0.55) (0.39,1.05) (0.1,-1.72) (-0.15,1.75) (0.18,-1.85)
  (-0.33,0.45) (-0.29,-0.85) (-0.24,0.72) (-0.21,-0.55) (-0.16,0.95) (-0.14,-0.32) (-0.09,0.55) (-0.06,-1.02) (-0.03,0.25) (0.0,-0.68) (0.03,0.62) (0.07,-0.38) (0.1,1.05) (0.13,-0.85) (0.16,0.45) (0.19,-0.22) (0.22,1.12) (0.25,-1.22) (0.29,0.35) (0.34,-0.62)};
\addplot[cloud, tGreen] coordinates {(-0.38,1.72) (-0.36,-0.35) (-0.34,1.25) (-0.33,-1.15) (-0.31,0.58) (-0.29,1.48) (-0.27,-0.62) (-0.26,0.95) (-0.24,-1.38) (-0.22,0.32) (-0.21,1.18) (-0.19,-0.85) (-0.17,0.68) (-0.16,-0.15) (-0.14,1.02) (-0.12,-0.58) (-0.11,0.45) (-0.09,-1.22) (-0.08,0.82) (-0.06,-0.32) (-0.05,0.22) (-0.03,-0.75) (-0.01,0.58) (0.00,-0.45) (0.02,1.02) (0.04,-0.95) (0.05,0.35) (0.07,-0.28) (0.08,0.75) (0.10,-0.62) (0.11,0.18) (0.13,-1.05) (0.15,0.55) (0.16,-0.42) (0.18,0.88) (0.19,-1.32) (0.21,-0.18) (0.23,0.42) (0.24,-0.78) (0.26,-1.55) (0.28,0.15) (0.30,-1.02) (0.32,-1.72) (0.34,-0.48) (0.36,-1.25) (0.38,0.32) (-0.1,1.55) (0.0,1.42) (-0.2,1.92) (0.12,-1.62)
  (-0.32,0.88) (-0.28,-0.28) (-0.23,0.62) (-0.2,-0.62) (-0.15,0.42) (-0.13,1.25) (-0.07,-0.55) (-0.04,0.95) (-0.02,-0.18) (0.01,0.32) (0.03,-1.35) (0.06,0.62) (0.09,-0.85) (0.12,0.28) (0.14,-0.58) (0.17,-1.1) (0.2,0.55) (0.22,-0.42) (0.27,-0.85) (0.33,0.45)};
\addplot[tPurple, line width=1.6pt] coordinates {(-0.4,0.02) (0.4,0.03)};
\addplot[tRed, line width=1.0pt] coordinates {(-0.4,0.0) (0.4,0.01)};
\end{axis}

% ---------------- (f) CD, sigma = 0.1: v_y
\begin{axis}[botrow, noy, at={(580pt,52pt)}, xmin=-0.4, xmax=0.4,
  xtick={-0.25,0,0.25}, xticklabels={−0.25,0.00,0.25}, xlabel={True \textit{v}\textsubscript{\textit{y}}}]
\addplot[fill=black!9, draw=none] coordinates {(-0.4,-0.25) (0.4,-0.25) (0.4,0.25) (-0.4,0.25)} -- cycle;
\addplot[cloud, tOrange] coordinates {(-0.39,0.25) (-0.37,1.15) (-0.35,-0.55) (-0.33,-1.25) (-0.31,0.62) (-0.29,-0.12) (-0.27,1.48) (-0.25,-0.85) (-0.23,0.38) (-0.21,1.05) (-0.19,-0.35) (-0.17,0.72) (-0.15,-1.02) (-0.13,0.28) (-0.11,1.22) (-0.09,-0.48) (-0.07,0.55) (-0.05,-0.15) (-0.03,-0.82) (-0.01,0.42) (0.01,-0.35) (0.03,-1.12) (0.05,0.22) (0.07,-0.62) (0.09,-1.45) (0.11,0.05) (0.13,-0.92) (0.15,-1.72) (0.17,-0.28) (0.19,0.65) (0.21,-0.95) (0.23,0.95) (0.25,1.42) (0.27,0.38) (0.29,-0.55) (0.31,1.15) (0.33,0.82) (0.35,1.62) (0.37,0.45) (0.39,1.02) (-0.34,-1.72) (-0.28,-1.92) (0.0,-1.85)
  (-0.36,0.72) (-0.32,1.35) (-0.28,0.45) (-0.24,0.95) (-0.2,0.25) (-0.16,1.02) (-0.12,0.55) (-0.08,0.15) (-0.04,0.62) (0.0,-0.42) (0.04,-0.65) (0.08,-0.25) (0.12,-1.25) (0.16,-0.72) (0.2,-0.35) (0.24,-0.85) (0.28,0.75) (0.32,1.25) (0.36,0.95)};
\addplot[cloud, tBlue] coordinates {(-0.37,0.85) (-0.34,1.35) (-0.32,0.42) (-0.29,1.12) (-0.27,0.25) (-0.25,1.55) (-0.23,0.68) (-0.21,-0.15) (-0.19,0.95) (-0.17,0.38) (-0.15,1.28) (-0.13,-0.35) (-0.11,0.62) (-0.09,0.12) (-0.07,-0.58) (-0.05,0.85) (-0.03,-0.25) (-0.01,0.32) (0.01,-0.72) (0.03,0.15) (0.05,-0.42) (0.07,-1.15) (0.09,-0.28) (0.11,-0.85) (0.13,-1.42) (0.15,-0.65) (0.17,-0.18) (0.19,-1.08) (0.21,-0.52) (0.23,-1.35) (0.25,-0.82) (0.27,-1.62) (0.29,-0.45) (0.31,-1.05) (0.33,-0.72) (0.35,-1.38) (0.37,-0.95) (0.39,-1.85) (0.12,0.55) (-0.22,-0.72) (0.28,0.35) (-0.35,-0.45)
  (-0.35,1.05) (-0.3,0.62) (-0.26,0.95) (-0.22,1.25) (-0.18,0.55) (-0.14,0.82) (-0.1,0.35) (-0.06,0.62) (-0.02,0.05) (0.02,-0.35) (0.06,-0.85) (0.08,-0.55) (0.12,-1.12) (0.14,-0.42) (0.18,-0.75) (0.22,-1.05) (0.26,-1.28) (0.3,-0.82) (0.34,-1.55)};
\addplot[cloud, tGreen] coordinates {(-0.39,1.52) (-0.38,1.92) (-0.36,0.98) (-0.35,1.65) (-0.33,1.25) (-0.31,1.82) (-0.30,0.72) (-0.28,1.42) (-0.27,1.05) (-0.25,0.58) (-0.24,1.28) (-0.22,0.85) (-0.21,0.42) (-0.19,1.12) (-0.18,0.65) (-0.16,0.28) (-0.15,0.92) (-0.13,0.48) (-0.12,0.15) (-0.10,0.72) (-0.09,0.35) (-0.07,0.08) (-0.05,0.52) (-0.04,0.18) (0.00,-0.25) (0.02,-0.52) (0.03,-0.18) (0.05,-0.78) (0.06,-0.42) (0.08,-1.05) (0.09,-0.62) (0.11,-0.32) (0.12,-0.92) (0.14,-1.28) (0.15,-0.55) (0.17,-1.02) (0.18,-1.52) (0.20,-0.75) (0.21,-1.25) (0.23,-1.72) (0.25,-0.98) (0.27,-1.42) (0.29,-1.88) (0.31,-1.15) (0.33,-1.55) (0.35,-0.85) (-0.2,-0.55) (0.1,0.45) (-0.3,-0.2) (0.2,0.25) (0.0,0.85) (-0.1,-0.95)
  (-0.37,1.28) (-0.34,0.85) (-0.29,1.15) (-0.26,1.62) (-0.23,0.72) (-0.2,1.35) (-0.17,0.95) (-0.14,0.62) (-0.11,1.05) (-0.08,0.55) (-0.06,0.25) (-0.02,0.42) (0.01,-0.45) (0.04,-0.35) (0.07,-0.72) (0.1,-0.95) (0.13,-0.62) (0.16,-1.22) (0.19,-0.92) (0.22,-1.45) (0.24,-0.65) (0.28,-1.18) (0.3,-1.62) (0.34,-1.25) (0.37,-0.72) (-0.15,0.05) (0.06,0.12)};
\addplot[tPurple, line width=1.6pt] coordinates {(-0.4,0.02) (0.4,0.02)};
\addplot[tRed, line width=1.0pt] coordinates {(-0.4,0.0) (0.4,0.0)};
\end{axis}

% ---------------- captions
\node at (63.5pt,171.5pt) {\capt{(a) KS, No Noise}};
\node at (196pt,171.5pt) {\capt{(b) KS, \textit{σ}\,=\,0.1 Noise}};
\node at (335.5pt,171.5pt) {\capt{(c) NS, No Noise}};
\node at (478.5pt,171.5pt) {\capt{(d) NS, \textit{σ}\,=\,0.1 Noise}};
\node at (165pt,10.5pt) {\capt{(e) CD, No Noise}};
\node at (505pt,10.5pt) {\capt{(f) CD, \textit{σ}\,=\,0.1 Noise}};
\end{tikzpicture}
\end{document}
